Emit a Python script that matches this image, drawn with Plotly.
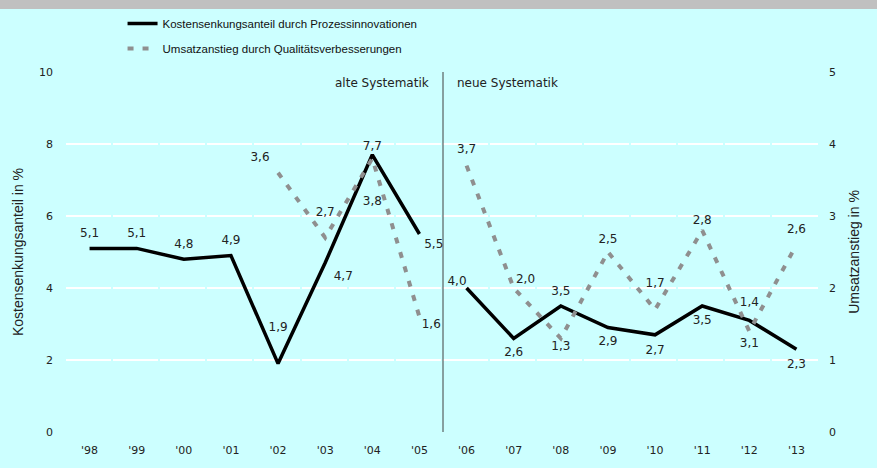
import plotly.graph_objects as go

years = ["'98", "'99", "'00", "'01", "'02", "'03", "'04", "'05",
         "'06", "'07", "'08", "'09", "'10", "'11", "'12", "'13"]
kosten = [5.1, 5.1, 4.8, 4.9, 1.9, 4.7, 7.7, 5.5,
          4.0, 2.6, 3.5, 2.9, 2.7, 3.5, 3.1, 2.3]
umsatz = [None, None, None, None, 3.6, 2.7, 3.8, 1.6,
          3.7, 2.0, 1.3, 2.5, 1.7, 2.8, 1.4, 2.6]

# label placement (style, not data)
kosten_pos = ["top center", "top center", "top center", "top center", "top center",
              "bottom right", "top center", "bottom right",
              "top left", "bottom center", "top center", "bottom center",
              "bottom center", "bottom center", "bottom center", "bottom center"]
kosten_gap = [12, 12, 12, 12, 46, 12, 2, 6,
              0, 12, 12, 12, 14, 12, 26, 14]
umsatz_pos = [None, None, None, None, "top left", "top center", "bottom center", "bottom right",
              "top center", "top right", "bottom center", "top center",
              "top center", "top center", "top center", "top center"]
umsatz_gap = [0, 0, 0, 0, 12, 28, 58, 2,
              14, 2, 2, 8, 30, 4, 34, 12]
split = 8  # first year of "neue Systematik"

name_k = "Kostensenkungsanteil durch Prozessinnovationen"
name_u = "Umsatzanstieg durch Qualitätsverbesserungen"

def fmt(v):
    return "" if v is None else f"{v:.1f}".replace(".", ",")

fig = go.Figure()
lab_font = dict(family="DejaVu Sans, Verdana, sans-serif", size=12, color="#222")

def hidden_marker(sizes):
    return dict(size=sizes, color="rgba(0,0,0,0)", opacity=0, line=dict(width=0))

for part, (a, b) in enumerate([(0, split), (split, len(years))]):
    fig.add_trace(go.Scatter(
        x=years[a:b], y=kosten[a:b], mode="lines+markers+text",
        text=[fmt(v) for v in kosten[a:b]], textposition=kosten_pos[a:b],
        textfont=lab_font, marker=hidden_marker(kosten_gap[a:b]),
        line=dict(color="black", width=3.5),
        name=name_k, legendgroup="k", showlegend=(part == 0),
        yaxis="y", cliponaxis=False))
for part, (a, b) in enumerate([(0, split), (split, len(years))]):
    idx = [i for i in range(a, b) if umsatz[i] is not None]
    fig.add_trace(go.Scatter(
        x=[years[i] for i in idx], y=[umsatz[i] for i in idx], mode="lines+markers+text",
        text=[fmt(umsatz[i]) for i in idx], textposition=[umsatz_pos[i] for i in idx],
        textfont=lab_font, marker=hidden_marker([umsatz_gap[i] for i in idx]),
        line=dict(color="#8f8f8f", width=4, dash="6px,9px"),
        name=name_u, legendgroup="u", showlegend=(part == 0),
        yaxis="y2", cliponaxis=False))

axis_font = dict(family="DejaVu Sans, Verdana, sans-serif", size=11, color="#222")
title_font = dict(family="Liberation Sans, Arial, sans-serif", size=14, color="#222")
fig.update_layout(
    width=877, height=468,
    paper_bgcolor="#ccffff", plot_bgcolor="#ccffff",
    margin=dict(l=66, r=57, t=72, b=36, autoexpand=False),
    showlegend=True,
    legend=dict(x=0.075, y=1.175, xanchor="left", yanchor="top",
                bgcolor="rgba(0,0,0,0)", tracegroupgap=6, itemwidth=30,
                font=dict(family="Liberation Sans, Arial, sans-serif",
                          size=11.5, color="#111")),
    xaxis=dict(type="category", categoryorder="array", categoryarray=years,
               range=[-0.5, len(years) - 0.5], automargin=False,
               showgrid=False, zeroline=False, showline=False, ticks="",
               tickfont=axis_font, ticklabelstandoff=10),
    yaxis=dict(range=[0, 10], dtick=2, showgrid=True, gridcolor="white", gridwidth=1.5,
               griddash="45.1px,2px", automargin=False,
               zeroline=False, showline=False, ticks="", tickfont=axis_font,
               ticklabelstandoff=12,
               title=dict(text="Kostensenkungsanteil in %", font=title_font, standoff=12)),
    yaxis2=dict(range=[0, 5], dtick=1, overlaying="y", side="right", showgrid=False,
                automargin=False,
                zeroline=False, showline=False, ticks="", tickfont=axis_font,
                ticklabelstandoff=8,
                title=dict(text="Umsatzanstieg in %", font=title_font, standoff=14)),
    font=axis_font,
)

# top gray band
fig.add_shape(type="rect", xref="paper", yref="paper", x0=-0.2, x1=1.2,
              y0=1 + 63 / 360, y1=1.3, fillcolor="#c0c0c0", line_width=0, layer="below")
# separator between old and new methodology
fig.add_shape(type="line", xref="x", yref="y", x0=split - 0.5, x1=split - 0.5,
              y0=0, y1=10, line=dict(color="#404040", width=1))
fig.add_annotation(x=split - 0.5, y=10, xref="x", yref="y", text="alte Systematik",
                   showarrow=False, xanchor="right", yanchor="top", xshift=-12, yshift=-2,
                   font=lab_font)
fig.add_annotation(x=split - 0.5, y=10, xref="x", yref="y", text="neue Systematik",
                   showarrow=False, xanchor="left", yanchor="top", xshift=12, yshift=-2,
                   font=lab_font)

fig.write_html("out.html", config={"displayModeBar": False},
               post_script="document.body.style.margin='0';")
